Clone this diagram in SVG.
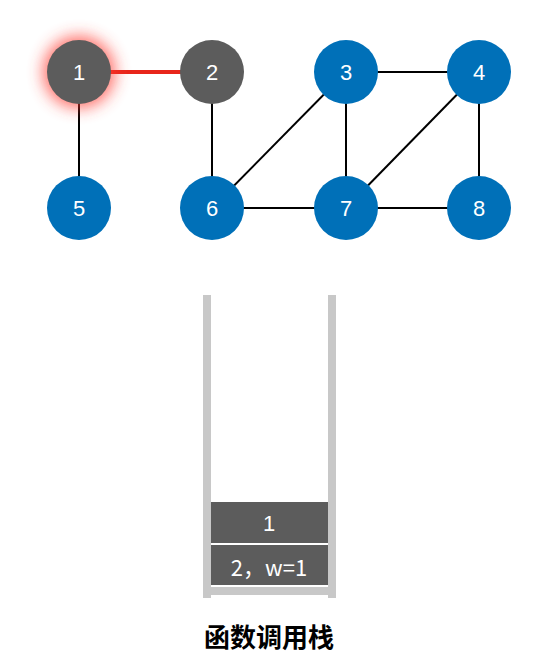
<svg xmlns="http://www.w3.org/2000/svg" width="539" height="670" viewBox="0 0 539 670">
<style>
.edge{stroke:#000;stroke-width:2;fill:none}
.red{stroke:#e8251a;stroke-width:4}
.blue{fill:#0070b8}
.gray{fill:#5c5c5c}
.lbl{font-family:"Liberation Sans",Arial,"Noto Sans CJK SC",sans-serif;font-size:22px;fill:#fff;text-anchor:middle;dominant-baseline:central}
.wall{fill:#c8c8c8}
.box{fill:#5c5c5c}
</style>
<defs>
<filter id="glow" x="-100%" y="-100%" width="300%" height="300%">
<feGaussianBlur stdDeviation="8"/>
</filter>
</defs>
<rect width="539" height="670" fill="#fff"/>
<g id="connectors">
<line class="edge red" x1="79" y1="72" x2="212" y2="72"/>
<line class="edge" x1="79" y1="72" x2="79" y2="208"/>
<line class="edge" x1="212" y1="72" x2="212" y2="208"/>
<line class="edge" x1="346" y1="72" x2="479" y2="72"/>
<line class="edge" x1="346" y1="72" x2="212" y2="208"/>
<line class="edge" x1="346" y1="72" x2="346" y2="208"/>
<line class="edge" x1="479" y1="72" x2="346" y2="208"/>
<line class="edge" x1="479" y1="72" x2="479" y2="208"/>
<line class="edge" x1="212" y1="208" x2="346" y2="208"/>
<line class="edge" x1="346" y1="208" x2="479" y2="208"/>
</g>
<g id="node1">
<circle cx="79" cy="72" r="36" fill="#ff3b30" opacity="0.75" filter="url(#glow)"/>
<circle class="gray" cx="79" cy="72" r="32"/>
<text class="lbl" x="79" y="72">1</text>
</g>
<g id="node2"><circle class="gray" cx="212" cy="72" r="32"/><text class="lbl" x="212" y="72">2</text></g>
<g id="node3"><circle class="blue" cx="346" cy="72" r="32"/><text class="lbl" x="346" y="72">3</text></g>
<g id="node4"><circle class="blue" cx="479" cy="72" r="32"/><text class="lbl" x="479" y="72">4</text></g>
<g id="node5"><circle class="blue" cx="79" cy="208" r="32"/><text class="lbl" x="79" y="208">5</text></g>
<g id="node6"><circle class="blue" cx="212" cy="208" r="32"/><text class="lbl" x="212" y="208">6</text></g>
<g id="node7"><circle class="blue" cx="346" cy="208" r="32"/><text class="lbl" x="346" y="208">7</text></g>
<g id="node8"><circle class="blue" cx="479" cy="208" r="32"/><text class="lbl" x="479" y="208">8</text></g>
<g id="stack">
<rect class="wall" x="203" y="295" width="8" height="303"/>
<rect class="wall" x="328" y="295" width="8" height="303"/>
<rect class="wall" x="211" y="587" width="117" height="8"/>
<rect class="box" x="211" y="502" width="117" height="41"/>
<text class="lbl" x="269" y="523">1</text>
<rect class="box" x="211" y="545" width="117" height="40"/>
<text class="lbl" x="269" y="566" style="font-family:'Noto Sans CJK SC','Liberation Sans',sans-serif">2，w=1</text>
</g>
<g id="caption">
<text x="269" y="635" style="font-family:'Noto Sans CJK SC','Noto Sans',sans-serif;font-size:26px;font-weight:bold;fill:#000;text-anchor:middle;dominant-baseline:central">函数调用栈</text>
</g>
</svg>
